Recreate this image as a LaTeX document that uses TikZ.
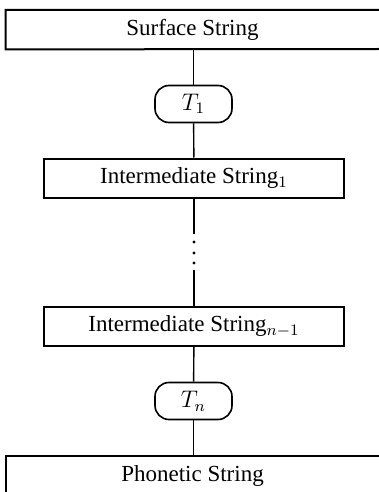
\documentclass[tikz,border=0pt]{standalone}
\usepackage{fontspec}
\setmainfont{Liberation Serif}
\begin{document}
\begin{tikzpicture}[x = 0.5pt, y = -0.5pt,
		strbox/.style = {draw, line width = 1pt, inner sep = 0pt, minimum height = 19.5pt},
		openbox/.style = {inner sep = 0pt, minimum height = 19.5pt, minimum width = 186.5pt},
		transbox/.style = {draw, line width = 0.8pt, rounded corners = 7pt, inner sep = 0pt, minimum width = 38.5pt, minimum height = 18.5pt},
		link/.style = {line width = 0.7pt}]
		\useasboundingbox (0, 0) rectangle (379, 492);
		\fontsize{11.5}{14}\selectfont
		% outer boxes run off the right edge, so no right side
		\node[openbox] (surface) at (192.5, 29.5) {Surface String};
		\draw[line width = 1pt] (379, 10) -| (surface.south west) -- (379, 49);
		\node[transbox] (t1) at (193.5, 104) {$T_1$};
		\node[strbox, minimum width = 150pt] (inter1) at (194, 178) {Intermediate String$_1$};
		\coordinate (gaptop) at (194, 234);
		\coordinate (gapbot) at (194, 270);
		\foreach \y in {242, 253, 263}
			\fill (194, \y) circle(1.6);
		\node[strbox, minimum width = 150pt] (intern) at (194, 326.5) {Intermediate String$_{n-1}$};
		\node[transbox] (tn) at (193.5, 401) {$T_n$};
		\node[openbox] (phonetic) at (192.5, 475.5) {Phonetic String};
		\draw[line width = 1pt] (379, 456) -| (phonetic.south west);
		\draw[link] (t1 |- surface.south) -- (t1);
		\draw[link] (t1) -- (inter1);
		\draw[link] (inter1) -- (gaptop);
		\draw[link] (gapbot) -- (intern);
		\draw[link] (intern) -- (tn);
		\draw[link] (tn) -- (tn |- phonetic.north);
	\end{tikzpicture}
\end{document}
